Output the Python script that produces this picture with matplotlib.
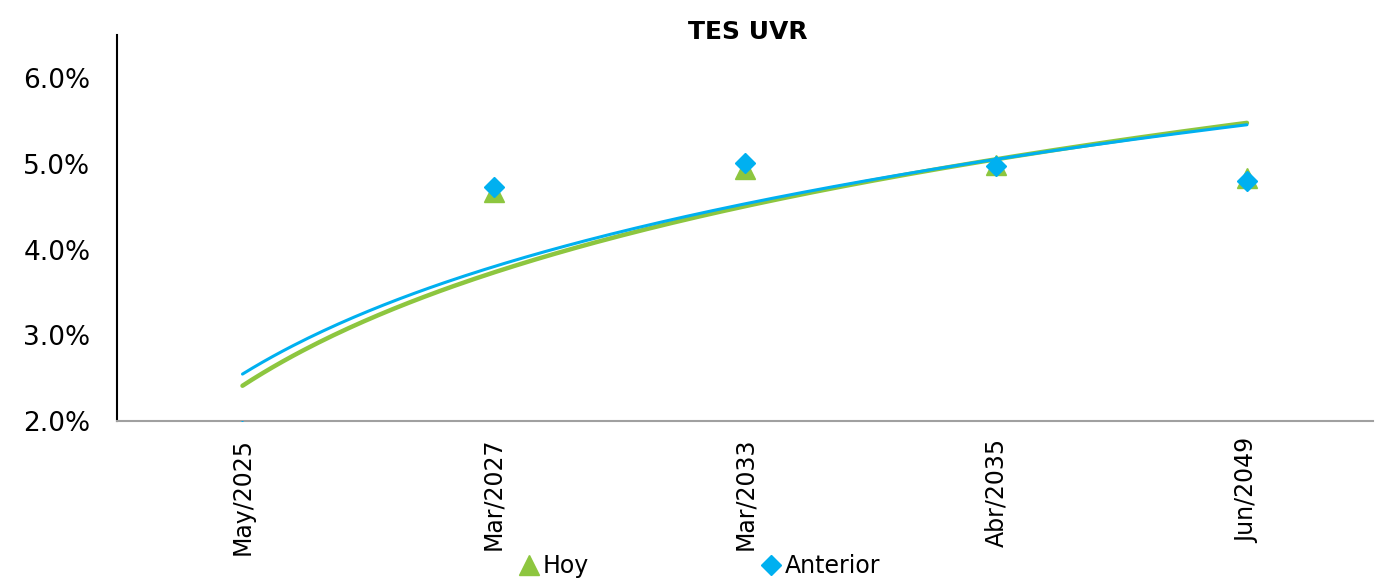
import matplotlib.pyplot as plt
import numpy as np
from matplotlib.ticker import FuncFormatter

# categories and yields (%); the May/2025 points fall below the axis, but they
# still drive the logarithmic trendlines
categories = ["May/2025", "Mar/2027", "Mar/2033", "Abr/2035", "Jun/2049"]
hoy = [1.75, 4.67, 4.94, 4.99, 4.83]
anterior = [1.88, 4.73, 5.01, 4.97, 4.80]

green = "#8DC63F"
blue = "#00B0F0"

plt.rcParams["font.family"] = "DejaVu Sans"

fig = plt.figure(figsize=(13.92, 5.85), dpi=100)
ax = fig.add_axes([0.084, 0.280, 0.902, 0.660])

x = np.arange(1, len(categories) + 1)
xs = np.linspace(1, len(categories), 200)

# excel style log trendlines: y = a + b*ln(x)
b_h, a_h = np.polyfit(np.log(x), hoy, 1)
b_a, a_a = np.polyfit(np.log(x), anterior, 1)
ax.plot(xs, a_h + b_h * np.log(xs), color=green, lw=3.2, solid_capstyle="round", zorder=2)
ax.plot(xs, a_a + b_a * np.log(xs), color=blue, lw=2.2, solid_capstyle="round", zorder=3)

ax.plot(x, hoy, ls="none", marker="^", ms=14, color=green, label="Hoy", zorder=4)
ax.plot(x, anterior, ls="none", marker="D", ms=10.5, color=blue, label="Anterior", zorder=5)

ax.set_xlim(0.5, len(categories) + 0.5)
ax.set_ylim(2.0, 6.5)
ax.set_yticks([2, 3, 4, 5, 6])
ax.yaxis.set_major_formatter(FuncFormatter(lambda v, p: f"{v:.1f}%"))
ax.set_xticks(x)
ax.set_xticklabels(categories, rotation=90)
ax.tick_params(axis="y", length=0, labelsize=19, pad=19)
ax.tick_params(axis="x", length=0, labelsize=17, pad=12)

for s in ["top", "right"]:
    ax.spines[s].set_visible(False)
ax.spines["left"].set_color("black")
ax.spines["left"].set_linewidth(1.5)
ax.spines["bottom"].set_color("#A0A0A0")
ax.spines["bottom"].set_linewidth(1.5)

fig.text(0.537, 1 - 32 / 585, "TES UVR", fontsize=18, fontweight="bold",
         ha="center", va="center")

fig.legend(loc="lower center", bbox_to_anchor=(0.502, -0.025), ncol=2, frameon=False,
           fontsize=17, handletextpad=0.1, columnspacing=7.2, handlelength=1.0)

fig.savefig("out.png", dpi=100)
